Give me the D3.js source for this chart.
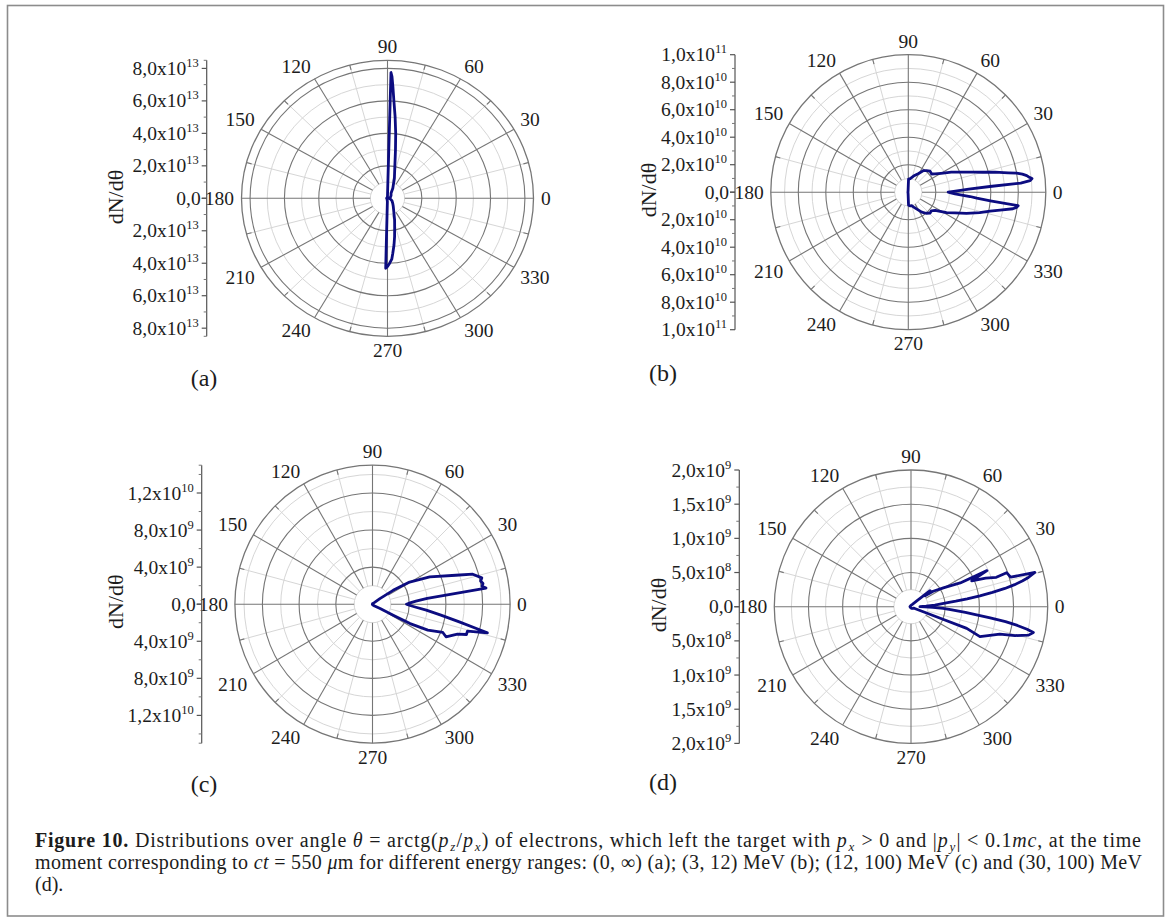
<!DOCTYPE html>
<html>
<head>
<meta charset="utf-8">
<script src="https://cdn.jsdelivr.net/npm/d3@7"></script>
<style>
  html, body { margin: 0; padding: 0; background: #fff; }
  svg { display: block; }
</style>
</head>
<body>
<svg id="fig" width="1168" height="921"></svg>
<script>
// ---------- data: dN/dθ versus θ (degrees) ----------
// (a) all energies, units of 1e13
const anglesA = [0, 20, 40, 56, 63.4, 72, 77.7, 81.1, 83.2, 85, 86.5, 87.4, 88, 88.5, 89.4, 90, 120, 150, 180, 210, 240, 268, 268.6, 270, 271.8, 273.8, 275.2, 277.5, 279.9, 283, 287.2, 296, 305, 315, 330, 345];
const valuesA = [0.1, 0.18, 0.27, 0.37, 0.69, 1.3, 2.0, 3.0, 4.03, 5.07, 6.05, 6.9, 7.5, 7.75, 0.3, 0.12, 0.05, 0.05, 0.05, 0.05, 0.05, 0.2, 4.31, 4.2, 4.0, 3.76, 3.4, 2.9, 2.4, 1.85, 1.4, 0.82, 0.58, 0.43, 0.3, 0.18];

// (b) 3-12 MeV, units of 1e10
const anglesB = [0, 1, 2, 3, 4, 4.6, 5.4, 6.3, 7, 8, 9, 10, 11, 13, 15, 17, 20, 25, 30, 34.4, 38, 44, 50, 55, 61, 72, 82, 89, 95, 120, 180, 240, 265, 271, 278, 284, 290, 296, 304, 310, 316, 321, 326, 332, 336, 340, 344, 347, 349, 351, 352, 353, 354, 355, 356, 357, 358, 359];
const valuesB = [2.9, 3.3, 3.8, 4.4, 5.95, 8.2, 8.9, 9.05, 8.87, 8.7, 8.4, 8.0, 7.4, 6.47, 5.6, 4.97, 4.25, 3.45, 2.75, 2.35, 2.15, 2.2, 2.05, 1.92, 1.55, 1.23, 1.0, 0.95, 0.15, 0.04, 0.03, 0.04, 0.15, 0.95, 1.0, 1.0, 1.15, 1.35, 1.75, 2.0, 2.2, 2.15, 2.35, 3.15, 3.7, 4.5, 5.4, 6.1, 6.8, 7.7, 7.95, 8.05, 6.0, 5.0, 4.5, 3.9, 3.4, 3.1];

// (c) 12-100 MeV, units of 1e9
const anglesC = [0, 2, 4, 6, 8, 9.2, 10.5, 12, 13.4, 16.5, 19, 25.3, 30.6, 33.7, 36.5, 40, 60, 90, 180, 270, 300, 320, 330.8, 332.3, 332.9, 335.1, 338.3, 336.3, 340.8, 342.3, 344.3, 346.1, 347, 348.6, 351, 353.7, 356, 358];
const valuesC = [3.7, 4.1, 4.75, 6.0, 12.5, 12.1, 12.25, 12.05, 12.25, 11.4, 9.6, 6.9, 4.7, 2.7, 1.0, 0.3, 0.1, 0.05, 0.02, 0.05, 0.1, 0.3, 0.95, 2.55, 4.6, 6.65, 8.25, 8.75, 9.8, 10.75, 10.75, 12.9, 11.55, 9.65, 7.55, 5.9, 4.75, 4.1];

// (d) 30-100 MeV, units of 1e8
const anglesD = [0, 2, 4, 6, 7, 8, 9, 10, 11, 12, 13, 14, 15.5, 16.5, 19.6, 19.0, 21, 23, 25.4, 25.8, 30, 35, 38, 40, 45, 60, 90, 180, 270, 300, 320, 330, 335, 338.5, 338.7, 336.5, 342.9, 344.5, 346.4, 348.1, 349, 350, 351, 352, 353, 354, 355, 356, 357, 358, 359];
const valuesD = [1.3, 2.2, 3.5, 5.0, 6.6, 8.3, 10.2, 12.1, 14.0, 15.5, 16.7, 17.7, 18.8, 15.2, 14.85, 13.2, 11.7, 9.65, 12.3, 8.0, 5.6, 3.95, 2.6, 3.65, 1.2, 0.4, 0.2, 0.15, 0.2, 0.3, 0.35, 0.4, 0.6, 4.5, 8.75, 11.0, 13.6, 15.8, 17.7, 18.3, 17.3, 15.8, 14.0, 11.7, 9.5, 8.0, 6.6, 5.6, 4.7, 3.2, 2.0];

// angular axis labels (degrees)
const angleTicks = [0, 30, 60, 90, 120, 150, 180, 210, 240, 270, 300, 330];

// radial axis tick values (same units as the series) and their labels
const tickValsA = [2, 4, 6, 8];
const tickMantA = ["2,0", "4,0", "6,0", "8,0"];
const tickExpA  = ["13", "13", "13", "13"];

const tickValsB = [2, 4, 6, 8, 10];
const tickMantB = ["2,0", "4,0", "6,0", "8,0", "1,0"];
const tickExpB  = ["10", "10", "10", "10", "11"];

const tickValsC = [4, 8, 12];
const tickMantC = ["4,0", "8,0", "1,2"];
const tickExpC  = ["9", "9", "10"];

const tickValsD = [5, 10, 15, 20];
const tickMantD = ["5,0", "1,0", "1,5", "2,0"];
const tickExpD  = ["8", "9", "9", "9"];

const panelTags = ["(a)", "(b)", "(c)", "(d)"];

// ---------- layout ----------
const FONT = "'Liberation Serif','Times New Roman',Times,serif";
const INK = "#1c1c1c";
const GRID_MAJOR = "#767676";
const GRID_MINOR = "#d6d6d6";
const CURVE = "#0c0c80";

const panels = [
  { tag: panelTags[0], angles: anglesA, values: valuesA, rmax: 8.5, major: 2, minor: 1,
    ticks: tickValsA, mant: tickMantA, exp: tickExpA,
    cx: 387.5, cy: 198.3, R: 138, kx: 1.058, axisX: 206.7, yLab: [115, 197], tagPos: [204, 386] },
  { tag: panelTags[1], angles: anglesB, values: valuesB, rmax: 10, major: 2, minor: 1,
    ticks: tickValsB, mant: tickMantB, exp: tickExpB,
    cx: 908.3, cy: 192.2, R: 137.5, kx: 1.0, axisX: 735, yLab: [648.3, 190], tagPos: [663, 381] },
  { tag: panelTags[2], angles: anglesC, values: valuesC, rmax: 15, major: 4, minor: 2,
    ticks: tickValsC, mant: tickMantC, exp: tickExpC,
    cx: 372.5, cy: 604.2, R: 139, kx: 0.99, axisX: 201.7, yLab: [115, 601.7], tagPos: [204, 792] },
  { tag: panelTags[3], angles: anglesD, values: valuesD, rmax: 20, major: 5, minor: 2.5,
    ticks: tickValsD, mant: tickMantD, exp: tickExpD,
    cx: 911, cy: 606.7, R: 136.7, kx: 1.0, axisX: 739.3, yLab: [658.3, 605], tagPos: [663, 790] }
];

const svg = d3.select("#fig");

// outer frame of the figure
svg.append("rect")
  .attr("x", 7.5).attr("y", 5.5).attr("width", 1156).attr("height", 910.5)
  .attr("fill", "none").attr("stroke", "#8c8c8c").attr("stroke-width", 1.6);

const isMultiple = (v, step) => Math.abs(v / step - Math.round(v / step)) < 1e-6;

panels.forEach(p => {
  const g = svg.append("g");
  const r = d3.scaleLinear().domain([0, p.rmax]).range([0, p.R]);
  const ang = d3.scaleLinear().domain([0, 360]).range([0, 2 * Math.PI]);
  const px = (deg, v) => p.cx + p.kx * r(v) * Math.cos(ang(deg));
  const py = (deg, v) => p.cy - r(v) * Math.sin(ang(deg));

  const nMinor = Math.floor(p.rmax / p.minor + 1e-6);
  const steps = d3.range(1, nMinor + 1).map(i => i * p.minor).filter(v => v < p.rmax - 1e-6);
  const minorRings = steps.filter(v => !isMultiple(v, p.major));
  const majorRings = steps.filter(v => isMultiple(v, p.major));
  const hole = p.minor;

  // minor spokes every 15° between the major ones
  g.selectAll(null).data(d3.range(15, 360, 30)).join("line")
    .attr("x1", d => px(d, hole)).attr("y1", d => py(d, hole))
    .attr("x2", d => px(d, p.rmax)).attr("y2", d => py(d, p.rmax))
    .attr("stroke", GRID_MINOR).attr("stroke-width", 1);

  // minor rings
  g.selectAll(null).data(minorRings).join("ellipse")
    .attr("cx", p.cx).attr("cy", p.cy)
    .attr("rx", d => r(d) * p.kx).attr("ry", d => r(d))
    .attr("fill", "none").attr("stroke", GRID_MINOR).attr("stroke-width", 1);

  // major rings
  g.selectAll(null).data(majorRings).join("ellipse")
    .attr("cx", p.cx).attr("cy", p.cy)
    .attr("rx", d => r(d) * p.kx).attr("ry", d => r(d))
    .attr("fill", "none").attr("stroke", GRID_MAJOR).attr("stroke-width", 1.1);

  // major spokes every 30°
  g.selectAll(null).data(d3.range(0, 360, 30)).join("line")
    .attr("x1", d => px(d, hole)).attr("y1", d => py(d, hole))
    .attr("x2", d => px(d, p.rmax)).attr("y2", d => py(d, p.rmax))
    .attr("stroke", GRID_MAJOR).attr("stroke-width", 1.1);

  // outer angular axis ring with inward ticks
  g.append("ellipse")
    .attr("cx", p.cx).attr("cy", p.cy)
    .attr("rx", r(p.rmax) * p.kx).attr("ry", r(p.rmax))
    .attr("fill", "none").attr("stroke", GRID_MAJOR).attr("stroke-width", 1.3);
  const tickIn = r.invert(p.R - 5);
  g.selectAll(null).data(d3.range(15, 360, 30)).join("line")
    .attr("x1", d => px(d, tickIn)).attr("y1", d => py(d, tickIn))
    .attr("x2", d => px(d, p.rmax)).attr("y2", d => py(d, p.rmax))
    .attr("stroke", GRID_MAJOR).attr("stroke-width", 1.1);

  // angular labels: the label box corner nearest the circle sits just outside it
  const gap = 7, digitH = 13.5;
  angleTicks.forEach(t => {
    const c = Math.cos(ang(t)), s = Math.sin(ang(t));
    const X = p.cx + c * (p.R + gap) * p.kx;
    const Y = p.cy - s * (p.R + gap);
    const anchor = c > 1e-6 ? "start" : (c < -1e-6 ? "end" : "middle");
    const base = s > 1e-6 ? Y : (s < -1e-6 ? Y + digitH : Y + digitH / 2);
    g.append("text")
      .attr("x", X).attr("y", base)
      .attr("text-anchor", anchor)
      .attr("font-family", FONT).attr("font-size", 19.5).attr("fill", INK)
      .text(String(t));
  });

  // data curve
  const pts = d3.zip(p.angles, p.values);
  const line = d3.line()
    .x(d => px(d[0], d[1]))
    .y(d => py(d[0], d[1]))
    .curve(d3.curveLinearClosed);
  g.append("path")
    .attr("d", line(pts))
    .attr("fill", "none").attr("stroke", CURVE)
    .attr("stroke-width", 2.8).attr("stroke-linejoin", "round");

  // mirrored radial axis on the left
  const yUp = v => p.cy - r(v);
  const yDn = v => p.cy + r(v);
  g.append("line")
    .attr("x1", p.axisX).attr("x2", p.axisX)
    .attr("y1", yUp(p.rmax)).attr("y2", yDn(p.rmax))
    .attr("stroke", "#555").attr("stroke-width", 1.2);

  const majorTickVals = [0].concat(p.ticks);
  const minorTickVals = steps.concat([p.rmax]).filter(v => !p.ticks.some(t => Math.abs(t - v) < 1e-6) && v <= p.rmax + 1e-6);
  [yUp, yDn].forEach(f => {
    g.selectAll(null).data(majorTickVals).join("line")
      .attr("x1", p.axisX - 5).attr("x2", p.axisX)
      .attr("y1", d => f(d)).attr("y2", d => f(d))
      .attr("stroke", "#555").attr("stroke-width", 1.2);
    g.selectAll(null).data(minorTickVals).join("line")
      .attr("x1", p.axisX - 3).attr("x2", p.axisX)
      .attr("y1", d => f(d)).attr("y2", d => f(d))
      .attr("stroke", "#777").attr("stroke-width", 1);
  });

  const tickLabel = (y, mant, exp) => {
    const t = g.append("text")
      .attr("x", exp ? p.axisX - 8 : p.axisX - 6).attr("y", y + 6.5)
      .attr("text-anchor", "end")
      .attr("font-family", FONT).attr("font-size", 19.5).attr("fill", INK);
    t.append("tspan").text(exp ? mant + "x10" : mant);
    if (exp) t.append("tspan").attr("dy", -8).attr("font-size", 12.5).text(exp);
  };
  tickLabel(p.cy, "0,0", "");
  p.ticks.forEach((v, i) => {
    tickLabel(yUp(v), p.mant[i], p.exp[i]);
    tickLabel(yDn(v), p.mant[i], p.exp[i]);
  });

  // radial axis title
  g.append("text")
    .attr("transform", `translate(${p.yLab[0]},${p.yLab[1]}) rotate(-90)`)
    .attr("text-anchor", "middle").attr("dy", "0.35em")
    .attr("font-family", FONT).attr("font-size", 22).attr("fill", INK)
    .text("dN/dθ");

  // panel tag
  g.append("text")
    .attr("x", p.tagPos[0]).attr("y", p.tagPos[1])
    .attr("text-anchor", "middle")
    .attr("font-family", FONT).attr("font-size", 24).attr("fill", INK)
    .text(p.tag);
});

// ---------- caption ----------
const captionLines = [
  { y: 847, width: 1106, parts: [
    ["Figure 10.", "b"], [" Distributions over angle ", ""], ["θ", "i"], [" = arctg(", ""],
    ["p", "i"], ["z", "sub"], ["/", ""], ["p", "i"], ["x", "sub"],
    [") of electrons, which left the target with ", ""], ["p", "i"], ["x", "sub"],
    [" > 0 and |", ""], ["p", "i"], ["y", "sub"], ["| < 0.1", ""], ["mc", "i"], [", at the time", ""]
  ]},
  { y: 869, width: 1107, parts: [
    ["moment corresponding to ", ""], ["ct", "i"], [" = 550 ", ""], ["μ", "i"],
    ["m for different energy ranges: (0, ∞) (a); (3, 12) MeV (b); (12, 100) MeV (c) and (30, 100) MeV", ""]
  ]},
  { y: 891, width: null, parts: [["(d).", ""]] }
];

captionLines.forEach(L => {
  const t = svg.append("text")
    .attr("x", 35).attr("y", L.y)
    .attr("font-family", FONT).attr("font-size", 20).attr("fill", INK);
  if (L.width) t.attr("textLength", L.width).attr("lengthAdjust", "spacing");
  let shifted = false;
  L.parts.forEach(([txt, st]) => {
    const s = t.append("tspan").text(txt);
    if (st === "b") s.attr("font-weight", "bold");
    if (st === "i") s.attr("font-style", "italic");
    if (st === "sub") {
      s.attr("font-style", "italic").attr("font-size", 13).attr("dy", 4).attr("dx", 1);
      shifted = true;
    } else if (shifted) {
      s.attr("dy", -4).attr("dx", 0.5);
      shifted = false;
    }
  });
});
</script>
</body>
</html>
